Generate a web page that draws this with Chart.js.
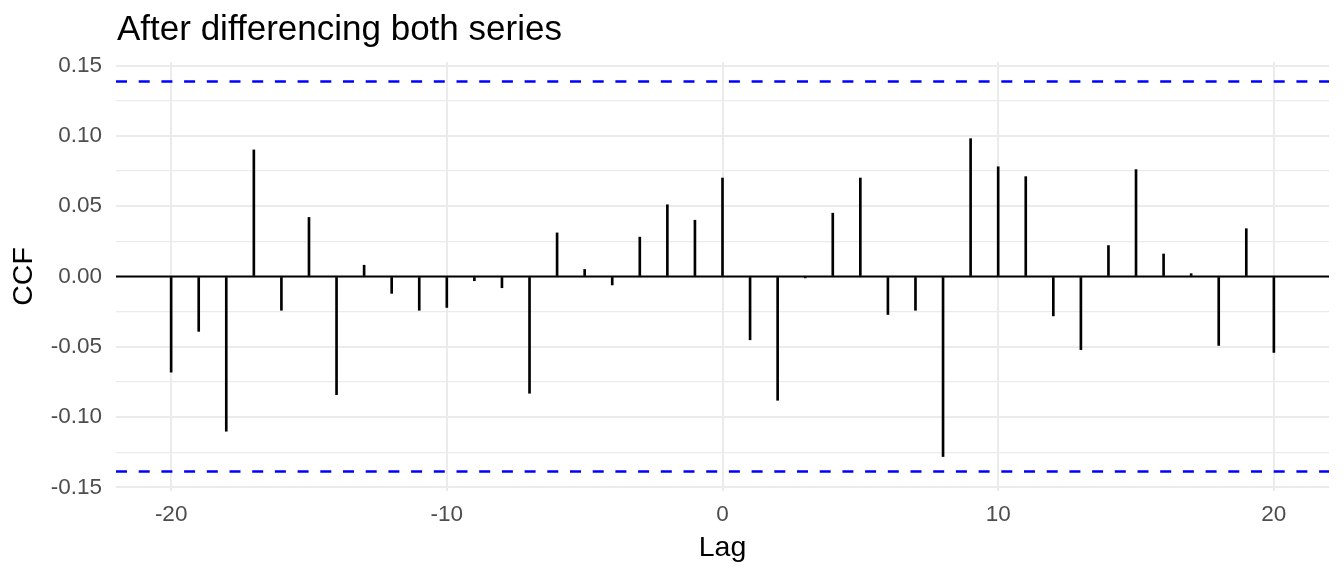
<!DOCTYPE html>
<html>
<head>
<meta charset="utf-8">
<script src="https://cdn.jsdelivr.net/npm/chart.js@4"></script>
<style>
  html, body { margin: 0; padding: 0; background: #fff; }
  canvas { display: block; }
</style>
</head>
<body>
<canvas id="ccfChart" width="1344" height="576"></canvas>
<script>
const lags = [-20, -19, -18, -17, -16, -15, -14, -13, -12, -11, -10, -9, -8, -7, -6, -5, -4, -3, -2, -1,
  0, 1, 2, 3, 4, 5, 6, 7, 8, 9, 10, 11, 12, 13, 14, 15, 16, 17, 18, 19, 20];
const ccfValues = [-0.068, -0.039, -0.110, 0.090, -0.024, 0.042, -0.084, 0.008, -0.012, -0.024,
  -0.022, -0.003, -0.008, -0.083, 0.031, 0.005, -0.006, 0.028, 0.051, 0.040,
  0.070, -0.045, -0.088, -0.001, 0.045, 0.070, -0.027, -0.024, -0.128, 0.098,
  0.078, 0.071, -0.028, -0.052, 0.022, 0.076, 0.016, 0.002, -0.049, 0.034, -0.054];
const ciLimit = 0.1387;
const xTicks = [-20, -10, 0, 10, 20];
const yTicks = [-0.15, -0.10, -0.05, 0.00, 0.05, 0.10, 0.15];
const yMinorTicks = [-0.125, -0.075, -0.025, 0.025, 0.075, 0.125];
const xLimits = [-22, 22];
const yLimits = [-0.1525, 0.1525];

const fontFamily = "'Liberation Sans', Arial, Helvetica, sans-serif";

const textPlugin = {
  id: "ggText",
  afterDraw(chart) {
    const ctx = chart.ctx;
    const area = chart.chartArea;
    ctx.save();
    ctx.fillStyle = "#000";
    ctx.textBaseline = "alphabetic";
    ctx.textAlign = "left";
    ctx.font = "35px " + fontFamily;
    ctx.fillText("After differencing both series", 117, 40);

    ctx.font = "28.5px " + fontFamily;
    ctx.textAlign = "center";
    ctx.fillText("Lag", (area.left + area.right) / 2, 556);

    ctx.translate(24, (area.top + area.bottom) / 2);
    ctx.rotate(-Math.PI / 2);
    ctx.textBaseline = "middle";
    ctx.fillText("CCF", 0, 0);
    ctx.restore();
  },
};

const ctx = document.getElementById("ccfChart").getContext("2d");
new Chart(ctx, {
  type: "bar",
  data: {
    datasets: [
      {
        type: "line",
        data: [{ x: xLimits[0], y: 0 }, { x: xLimits[1], y: 0 }],
        borderColor: "#000",
        borderWidth: 2,
        pointRadius: 0,
        order: 1,
      },
      {
        type: "bar",
        data: lags.map((lag, i) => ({ x: lag, y: ccfValues[i] })),
        backgroundColor: "#000",
        borderWidth: 0,
        barThickness: 2,
        order: 2,
      },
      {
        type: "line",
        data: [{ x: xLimits[0], y: ciLimit }, { x: xLimits[1], y: ciLimit }],
        borderColor: "#0000ff",
        borderWidth: 2.5,
        borderDash: [11, 11.7],
        pointRadius: 0,
        order: 0,
      },
      {
        type: "line",
        data: [{ x: xLimits[0], y: -ciLimit }, { x: xLimits[1], y: -ciLimit }],
        borderColor: "#0000ff",
        borderWidth: 2.5,
        borderDash: [11, 11.7],
        pointRadius: 0,
        order: 0,
      },
    ],
  },
  options: {
    responsive: false,
    animation: false,
    devicePixelRatio: 1,
    layout: { padding: { top: 62, right: 15, left: 0, bottom: 0 } },
    plugins: {
      legend: { display: false },
      tooltip: { enabled: false },
      title: { display: false },
    },
    scales: {
      x: {
        type: "linear",
        min: xLimits[0],
        max: xLimits[1],
        offset: false,
        border: { display: false },
        grid: { color: "#ebebeb", lineWidth: 2, drawTicks: false, offset: false },
        afterBuildTicks(scale) {
          scale.ticks = xTicks.map((v) => ({ value: v }));
        },
        afterFit(scale) {
          scale.height = 85;
        },
        ticks: {
          padding: 10.5,
          color: "#4d4d4d",
          font: { family: fontFamily, size: 22.5 },
          autoSkip: false,
          maxRotation: 0,
          callback: (v) => String(v),
        },
      },
      y: {
        type: "linear",
        min: yLimits[0],
        max: yLimits[1],
        border: { display: false },
        grid: {
          color: "#ebebeb",
          drawTicks: false,
          lineWidth: (c) => (yMinorTicks.includes(c.tick.value) ? 1.2 : 2),
        },
        afterBuildTicks(scale) {
          scale.ticks = yTicks.concat(yMinorTicks)
            .sort((a, b) => a - b)
            .map((v) => ({ value: v }));
        },
        afterFit(scale) {
          scale.width = 116;
        },
        ticks: {
          padding: 14,
          color: "#4d4d4d",
          font: { family: fontFamily, size: 22.5 },
          autoSkip: false,
          callback: (v) => (yMinorTicks.includes(v) ? "" : v.toFixed(2)),
        },
      },
    },
  },
  plugins: [textPlugin],
});
</script>
</body>
</html>
